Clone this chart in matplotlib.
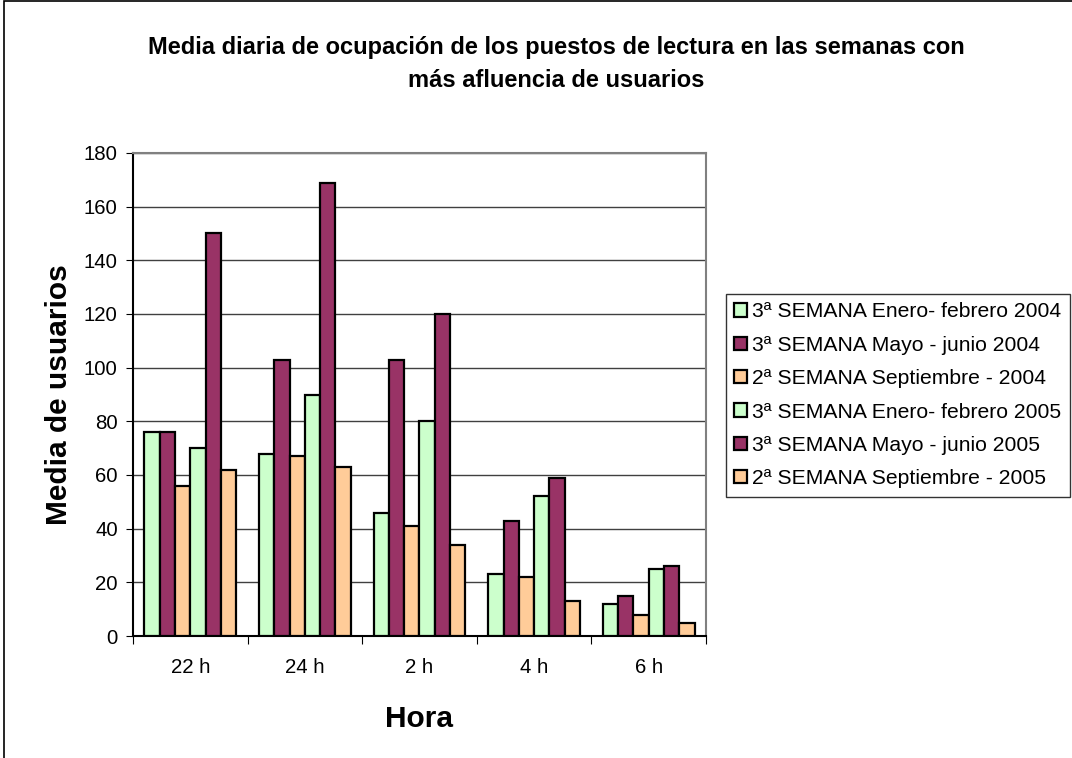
import matplotlib
matplotlib.use("Agg")
import matplotlib.pyplot as plt
import numpy as np
from matplotlib.patches import Rectangle

plt.rcParams['font.family'] = ['Liberation Sans', 'DejaVu Sans']

categories = ["22 h", "24 h", "2 h", "4 h", "6 h"]
series_names = [
    "3ª SEMANA Enero- febrero 2004",
    "3ª SEMANA Mayo - junio 2004",
    "2ª SEMANA Septiembre - 2004",
    "3ª SEMANA Enero- febrero 2005",
    "3ª SEMANA Mayo - junio 2005",
    "2ª SEMANA Septiembre - 2005",
]
ene_feb_2004 = [76, 68, 46, 23, 12]
may_jun_2004 = [76, 103, 103, 43, 15]
sep_2004 = [56, 67, 41, 22, 8]
ene_feb_2005 = [70, 90, 80, 52, 25]
may_jun_2005 = [150, 169, 120, 59, 26]
sep_2005 = [62, 63, 34, 13, 5]
series_values = [ene_feb_2004, may_jun_2004, sep_2004, ene_feb_2005, may_jun_2005, sep_2005]
colors = ["#CCFFCC", "#993366", "#FFCC99", "#CCFFCC", "#993366", "#FFCC99"]
yticks = [0, 20, 40, 60, 80, 100, 120, 140, 160, 180]

fig = plt.figure(figsize=(10.72, 7.58), dpi=100)
ax = fig.add_axes([133/1072, 1 - 636/758, 573/1072, 483/758])

n = len(series_names)
w = 0.8 / n
x = np.arange(len(categories))
handles = []
for i, (name, vals, c) in enumerate(zip(series_names, series_values, colors)):
    b = ax.bar(x - 0.4 + w * (i + 0.5), vals, width=w, color=c, edgecolor="black",
               linewidth=1.6, label=name, zorder=3)
    handles.append(b)

ax.set_xlim(-0.5, len(categories) - 0.5)
ax.set_ylim(0, 180)
ax.set_yticks(yticks)
ax.set_yticklabels([str(v) for v in yticks], fontsize=14.7)
ax.yaxis.grid(True, color="#404040", linewidth=1.0, zorder=0)
ax.set_axisbelow(True)

ax.set_xticks(np.arange(len(categories) + 1) - 0.5)
ax.set_xticklabels([])
ax.set_xticks(x, minor=True)
ax.set_xticklabels(categories, minor=True, fontsize=14.7)
ax.tick_params(axis="x", which="minor", length=0, pad=16)
ax.tick_params(axis="x", which="major", length=6, direction="out", color="black")
ax.tick_params(axis="y", length=5, direction="out", pad=6)

ax.spines["left"].set_color("black")
ax.spines["bottom"].set_color("black")
ax.spines["top"].set_color("#808080")
ax.spines["right"].set_color("#808080")
for s in ax.spines.values():
    s.set_linewidth(1.5)

ax.set_xlabel("Hora", fontsize=21.5, fontweight="bold", labelpad=20)
ax.set_ylabel("Media de usuarios", fontsize=21.5, fontweight="bold", labelpad=8)

fig.text(556/1072, 1 - 64/758,
         "Media diaria de ocupación de los puestos de lectura en las semanas con\nmás afluencia de usuarios",
         ha="center", va="center", fontsize=17, fontweight="bold", linespacing=1.55)

leg = ax.legend(handles=handles, loc="upper left", bbox_to_anchor=(726/1072, 1 - 294/758),
                bbox_transform=fig.transFigure, fontsize=15.2, frameon=True, fancybox=False,
                handlelength=0.6, handleheight=0.6, handletextpad=0.25, borderpad=0.4,
                labelspacing=0.68, borderaxespad=0)
leg.get_frame().set_edgecolor("black")
leg.get_frame().set_linewidth(1.0)

fig.patches.append(Rectangle((4/1072, -0.05), 1.2, 1.05 - 1/758, transform=fig.transFigure,
                             fill=False, edgecolor="black", linewidth=1.2))

fig.savefig("out.png", dpi=100)
